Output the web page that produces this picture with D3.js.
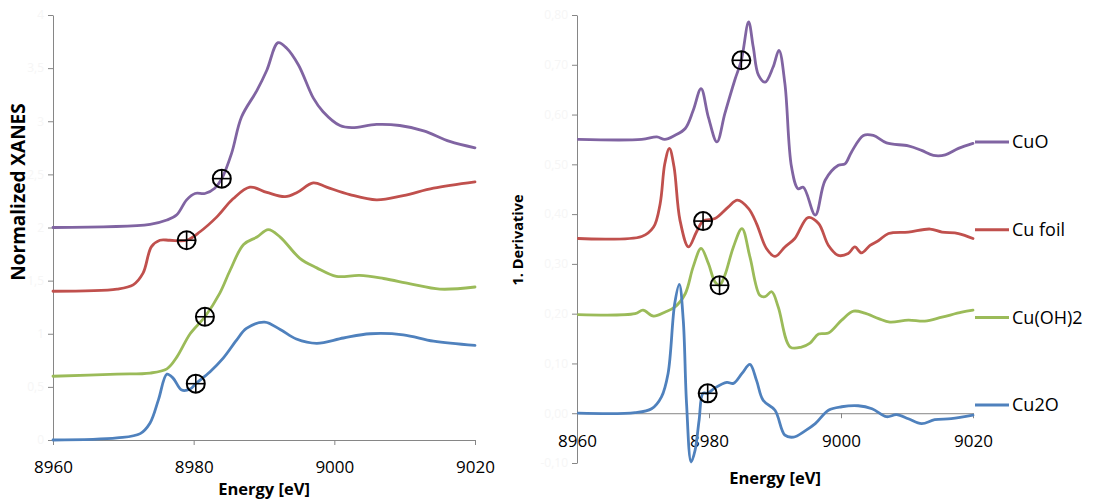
<!DOCTYPE html>
<html>
<head>
<meta charset="utf-8">
<script src="https://cdn.jsdelivr.net/npm/d3@7"></script>
<style>
  body { margin: 0; background: #fff; }
  svg text { font-family: "Open Sans", "Liberation Sans", sans-serif; }
</style>
</head>
<body>
<svg width="1095" height="502"></svg>
<script>
let width = 1095;
let height = 502;

let seriesNames = ['CuO', 'Cu foil', 'Cu(OH)2', 'Cu2O'];
let seriesColors = ['#8064A2', '#C0504D', '#9BBB59', '#4F81BD'];
let energyTicks = [8960, 8980, 9000, 9020];
let xanesTicks = [0, 0.5, 1, 1.5, 2, 2.5, 3, 3.5, 4];
let xanesTickLabels = ['0', '0,5', '1', '1,5', '2', '2,5', '3', '3,5', '4'];
let derivTicks = [-0.1, 0, 0.1, 0.2, 0.3, 0.4, 0.5, 0.6, 0.7, 0.8];
let derivTickLabels = ['-0,10', '0,00', '0,10', '0,20', '0,30', '0,40', '0,50', '0,60', '0,70', '0,80'];

// normalized XANES, [energy, value] (curves are stacked with an offset)
let xanesCuO = [
  [8960, 2.0], [8973.8, 2.03], [8976.2, 2.07], [8977.6, 2.12], [8979.0, 2.26], [8980.2, 2.32],
  [8981.6, 2.32], [8983.0, 2.37], [8984.0, 2.46], [8985.4, 2.70], [8986.8, 3.04], [8989.0, 3.29],
  [8990.4, 3.48], [8992.0, 3.74], [8993.2, 3.69], [8994.9, 3.53], [8997.0, 3.22], [8998.4, 3.09],
  [9000.8, 2.96], [9002.5, 2.94], [9006.0, 2.97], [9009.3, 2.96], [9012.7, 2.91], [9016.4, 2.81],
  [9020, 2.75]
];
let xanesCuFoil = [
  [8960, 1.40], [8969.1, 1.42], [8971.4, 1.46], [8972.8, 1.57], [8974.0, 1.82], [8975.2, 1.88],
  [8976.6, 1.88], [8979.0, 1.88], [8980.9, 1.96], [8983.3, 2.10], [8985.6, 2.27], [8988.0, 2.38],
  [8990.4, 2.33], [8993.0, 2.29], [8994.7, 2.33], [8997.0, 2.42], [8998.9, 2.38], [9002.2, 2.31],
  [9006.0, 2.26], [9009.8, 2.30], [9014.1, 2.37], [9020, 2.43]
];
let xanesCuOH2 = [
  [8960, 0.60], [8969.1, 0.62], [8973.8, 0.63], [8976.2, 0.67], [8977.6, 0.78], [8979.5, 1.00],
  [8981.6, 1.16], [8983.7, 1.38], [8985.2, 1.60], [8987.1, 1.84], [8989.0, 1.91], [8990.6, 1.98],
  [8992.3, 1.91], [8995.1, 1.71], [8997.5, 1.62], [9000.3, 1.54], [9003.6, 1.55], [9007.0, 1.52],
  [9010.8, 1.47], [9015.0, 1.42], [9020, 1.44]
];
let xanesCu2O = [
  [8960, 0.0], [8969.1, 0.02], [8972.4, 0.06], [8973.8, 0.16], [8975.0, 0.38], [8976.2, 0.62],
  [8977.1, 0.58], [8978.3, 0.47], [8979.5, 0.48], [8980.3, 0.53], [8982.3, 0.64], [8984.2, 0.77],
  [8986.1, 0.94], [8987.5, 1.05], [8990.1, 1.11], [8992.3, 1.04], [8994.6, 0.95], [8997.5, 0.91],
  [9001.3, 0.96], [9005.1, 1.00], [9009.8, 0.99], [9014.1, 0.93], [9020, 0.89]
];

// first derivative, [energy, value]
let derivCuO = [
  [8960.2, 0.550], [8969.8, 0.550], [8972.1, 0.555], [8973.3, 0.550], [8974.8, 0.558], [8976.4, 0.572],
  [8977.6, 0.608], [8978.8, 0.652], [8979.9, 0.595], [8981.2, 0.545], [8982.4, 0.602], [8983.9, 0.669],
  [8984.9, 0.709], [8986.0, 0.786], [8986.7, 0.736], [8987.5, 0.679], [8988.5, 0.665], [8989.7, 0.695],
  [8990.6, 0.729], [8991.5, 0.662], [8992.5, 0.495], [8993.5, 0.451], [8994.3, 0.454], [8996.1, 0.398],
  [8997.6, 0.468], [8999.6, 0.498], [9000.6, 0.501], [9001.6, 0.525], [9003.4, 0.558], [9004.9, 0.558],
  [9006.9, 0.543], [9010.2, 0.537], [9012.2, 0.528], [9014.0, 0.518], [9015.8, 0.519], [9017.8, 0.532],
  [9020, 0.542]
];
let derivCuFoil = [
  [8960.2, 0.351], [8969.8, 0.355], [8971.6, 0.374], [8972.6, 0.421], [8973.3, 0.501], [8974.0, 0.532],
  [8974.7, 0.495], [8975.6, 0.388], [8976.9, 0.334], [8978.1, 0.364], [8979.1, 0.386], [8980.9, 0.391],
  [8982.9, 0.414], [8984.3, 0.428], [8986.0, 0.411], [8987.2, 0.381], [8988.7, 0.331], [8990.0, 0.315],
  [8991.5, 0.334], [8993.0, 0.351], [8995.0, 0.393], [8996.6, 0.381], [8998.1, 0.337], [8999.6, 0.317],
  [9001.1, 0.321], [9002.1, 0.334], [9003.1, 0.322], [9004.4, 0.337], [9005.7, 0.347], [9007.2, 0.361],
  [9010.2, 0.364], [9013.5, 0.370], [9015.3, 0.364], [9017.8, 0.361], [9020, 0.351]
];
let derivCuOH2 = [
  [8960.2, 0.198], [8968.8, 0.200], [8970.0, 0.207], [8971.6, 0.195], [8973.3, 0.203], [8974.8, 0.213],
  [8976.4, 0.240], [8977.6, 0.294], [8978.8, 0.331], [8979.9, 0.301], [8980.9, 0.264], [8981.6, 0.257],
  [8982.4, 0.277], [8983.7, 0.334], [8985.0, 0.371], [8986.2, 0.314], [8987.7, 0.237], [8988.5, 0.234],
  [8989.5, 0.244], [8990.5, 0.213], [8992.3, 0.133], [8994.0, 0.133], [8995.3, 0.141], [8996.6, 0.159],
  [8998.1, 0.161], [9000.1, 0.187], [9001.9, 0.205], [9003.6, 0.201], [9005.7, 0.190], [9007.4, 0.183],
  [9010.2, 0.187], [9012.7, 0.185], [9015.3, 0.193], [9018.3, 0.203], [9020, 0.207]
];
let derivCu2O = [
  [8960.2, 0.0], [8968.8, 0.001], [8971.3, 0.009], [8972.8, 0.033], [8973.8, 0.080], [8974.8, 0.220],
  [8975.5, 0.259], [8976.1, 0.187], [8976.6, 0.019], [8977.3, -0.098], [8977.9, -0.074], [8978.5, -0.014],
  [8979.1, 0.040], [8979.8, 0.040], [8980.9, 0.051], [8982.7, 0.062], [8983.7, 0.060], [8985.0, 0.080],
  [8986.2, 0.098], [8987.2, 0.066], [8988.2, 0.026], [8990.0, 0.006], [8991.5, -0.044], [8992.8, -0.048],
  [8994.5, -0.036], [8996.1, -0.021], [8998.1, 0.006], [9000.1, 0.013], [9002.6, 0.015], [9004.7, 0.009],
  [9006.9, -0.007], [9008.4, -0.003], [9010.2, -0.011], [9012.2, -0.021], [9014.2, -0.013], [9016.7, -0.011],
  [9020, -0.004]
];

// edge positions marked with a crossed circle
let xanesMarks = [[8984.0, 2.46], [8979.0, 1.88], [8981.6, 1.16], [8980.3, 0.53]];
let derivMarks = [[8984.9, 0.709], [8979.1, 0.386], [8981.6, 0.257], [8979.8, 0.040]];

let xanesSeries = [xanesCuO, xanesCuFoil, xanesCuOH2, xanesCu2O];
let derivSeries = [derivCuO, derivCuFoil, derivCuOH2, derivCu2O];

let svg = d3.select('svg').attr('width', width).attr('height', height);

let axisGray = '#868686';
let faint = '#f6f6f6';

function drawPanel(opts) {
  let x = d3.scaleLinear().domain([8960, 9020]).range(opts.xRange);
  let y = d3.scaleLinear().domain(opts.yDomain).range(opts.yRange);

  let g = svg.append('g');

  // y axis
  let yAxis = g.append('g')
    .attr('transform', `translate(${opts.xRange[0]},0)`)
    .call(d3.axisLeft(y).tickValues(opts.yTicks).tickFormat((d, i) => opts.yLabels[i])
      .tickSize(5).tickSizeOuter(0).tickPadding(4));
  yAxis.selectAll('path, line').attr('stroke', axisGray);
  yAxis.selectAll('text').attr('fill', faint).style('font-size', '12px');

  // x axis
  let xAxis = g.append('g')
    .attr('transform', `translate(0,${y(opts.xAt)})`)
    .call(d3.axisBottom(x).tickValues(energyTicks).tickFormat(d3.format('d'))
      .tickSize(5).tickSizeOuter(0).tickPadding(opts.xPad));
  xAxis.selectAll('path, line').attr('stroke', axisGray);
  xAxis.selectAll('text').attr('fill', '#000').style('font-size', '17px');

  let line = d3.line()
    .x((d) => x(d[0]))
    .y((d) => y(d[1]))
    .curve(d3.curveCatmullRom.alpha(0.5));

  g.selectAll('path.series')
    .data(opts.series)
    .enter()
    .append('path')
    .attr('class', 'series')
    .attr('d', line)
    .attr('fill', 'none')
    .attr('stroke', (d, i) => seriesColors[i])
    .attr('stroke-width', 2.8)
    .attr('stroke-linejoin', 'round')
    .attr('stroke-linecap', 'round');

  let marks = g.selectAll('g.mark')
    .data(opts.marks)
    .enter()
    .append('g')
    .attr('class', 'mark')
    .attr('transform', (d) => `translate(${x(d[0])},${y(d[1])})`);
  marks.append('circle').attr('r', 9).attr('fill', 'none').attr('stroke', '#000').attr('stroke-width', 2);
  marks.append('line').attr('x1', -9).attr('x2', 9).attr('stroke', '#000').attr('stroke-width', 1.6);
  marks.append('line').attr('y1', -9).attr('y2', 9).attr('stroke', '#000').attr('stroke-width', 1.6);

  // titles
  g.append('text')
    .attr('x', (opts.xRange[0] + opts.xRange[1]) / 2)
    .attr('y', opts.xTitleY)
    .attr('text-anchor', 'middle')
    .style('font-size', '16.5px')
    .style('font-weight', 'bold')
    .text('Energy [eV]');

  g.append('text')
    .attr('transform', `translate(${opts.yTitleX},${opts.yTitleY}) rotate(-90)`)
    .attr('text-anchor', 'middle')
    .style('font-size', opts.yTitleSize)
    .style('font-weight', 'bold')
    .text(opts.yTitle);
}

drawPanel({
  xRange: [53, 475],
  yDomain: [0, 4],
  yRange: [440, 15],
  yTicks: xanesTicks,
  yLabels: xanesTickLabels,
  xAt: 0,
  xPad: 16,
  series: xanesSeries,
  marks: xanesMarks,
  xTitleY: 495,
  yTitle: 'Normalized XANES',
  yTitleX: 25,
  yTitleY: 192,
  yTitleSize: '19px'
});

drawPanel({
  xRange: [577, 973],
  yDomain: [-0.1, 0.8],
  yRange: [463, 15],
  yTicks: derivTicks,
  yLabels: derivTickLabels,
  xAt: 0,
  xPad: 17,
  series: derivSeries,
  marks: derivMarks,
  xTitleY: 484,
  yTitle: '1. Derivative',
  yTitleX: 523,
  yTitleY: 240,
  yTitleSize: '14.5px'
});

// legend
let legend = svg.selectAll('g.legend')
  .data(seriesNames)
  .enter()
  .append('g')
  .attr('class', 'legend')
  .attr('transform', (d, i) => `translate(975,${142 + i * 87.7})`);
legend.append('line')
  .attr('x1', 0).attr('x2', 34)
  .attr('stroke', (d, i) => seriesColors[i])
  .attr('stroke-width', 3);
legend.append('text')
  .attr('x', 37)
  .attr('dy', '0.35em')
  .style('font-size', '18px')
  .text((d) => d);
</script>
</body>
</html>
